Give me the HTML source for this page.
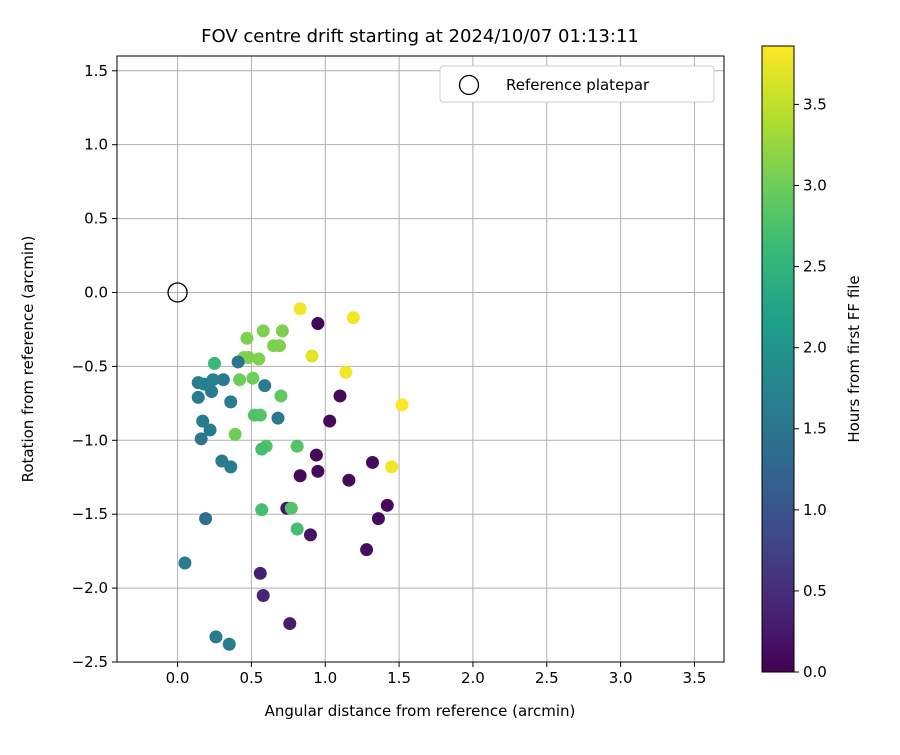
<!DOCTYPE html>
<html><head><meta charset="utf-8"><style>
body{margin:0;background:#fff;font-family:"Liberation Sans","DejaVu Sans",sans-serif}
svg text{font-family:"DejaVu Sans","Liberation Sans",sans-serif}
</style></head><body>
<svg id="c" width="900" height="750" xmlns="http://www.w3.org/2000/svg"></svg>
<script>
const xs=[0.95,1.03,1.10,0.94,0.95,0.83,1.16,1.32,1.42,1.36,1.28,0.90,0.74,0.56,0.58,0.76,
0.83,1.19,0.91,1.14,1.52,1.45,
0.47,0.58,0.71,0.69,0.65,0.55,0.45,0.48,0.42,0.51,0.25,0.70,0.39,0.52,0.56,0.60,0.57,0.81,0.57,0.77,0.81,
0.41,0.59,0.14,0.24,0.31,0.23,0.14,0.17,0.18,0.22,0.36,0.68,0.16,0.30,0.36,0.19,0.05,0.26,0.35];
const ys=[-0.21,-0.87,-0.70,-1.10,-1.21,-1.24,-1.27,-1.15,-1.44,-1.53,-1.74,-1.64,-1.46,-1.90,-2.05,-2.24,
-0.11,-0.17,-0.43,-0.54,-0.76,-1.18,
-0.31,-0.26,-0.26,-0.36,-0.36,-0.45,-0.44,-0.44,-0.59,-0.58,-0.48,-0.70,-0.96,-0.83,-0.83,-1.04,-1.06,-1.04,-1.47,-1.46,-1.60,
-0.47,-0.63,-0.61,-0.59,-0.59,-0.67,-0.71,-0.87,-0.62,-0.93,-0.74,-0.85,-0.99,-1.14,-1.18,-1.53,-1.83,-2.33,-2.38];
const hrs=[0.05,0.1,0.1,0.1,0.1,0.1,0.1,0.1,0.1,0.1,0.15,0.2,0.2,0.35,0.4,0.3,
3.8,3.8,3.7,3.8,3.85,3.8,
3.1,3.1,3.1,3.1,3.1,3.1,3.1,3.1,3.0,3.0,2.6,2.9,3.0,2.8,2.8,2.8,2.7,2.8,2.7,2.8,2.7,
1.5,1.6,1.6,1.7,1.6,1.6,1.6,1.6,1.7,1.6,1.6,1.6,1.5,1.6,1.6,1.4,1.6,1.6,1.6];
const xticks=[0,0.5,1,1.5,2,2.5,3,3.5], yticks=[1.5,1,0.5,0,-0.5,-1,-1.5,-2,-2.5], cticks=[0,0.5,1,1.5,2,2.5,3,3.5];
const NS="http://www.w3.org/2000/svg",s=document.getElementById('c');
function el(t,a,txt){const e=document.createElementNS(NS,t);for(const k in a)e.setAttribute(k,a[k]);if(txt!=null)e.textContent=txt;s.appendChild(e);return e;}
const L=117,R=724,T=56,B=662,x0=-0.41,x1=3.70,y0=-2.5,y1=1.6;
const X=v=>L+(v-x0)/(x1-x0)*(R-L), Y=v=>B-(v-y0)/(y1-y0)*(B-T);
const vir=[[68,1,84],[72,40,120],[62,74,137],[49,104,142],[38,130,142],[31,158,137],[53,183,121],[109,205,89],[180,222,44],[253,231,37]];
function col(h){let t=Math.max(0,Math.min(1,h/3.86))*9,i=Math.min(8,Math.floor(t)),f=t-i;const a=vir[i],b=vir[i+1];return `rgb(${a.map((v,k)=>Math.round(v+(b[k]-v)*f)).join(',')})`;}
let e;
e=el('rect',{x:L,y:T,width:R-L,height:B-T,fill:'#fff'});
xticks.forEach(v=>{const x=X(v);el('line',{x1:x,x2:x,y1:T,y2:B,stroke:'#b0b0b0','stroke-width':1});el('line',{x1:x,x2:x,y1:B,y2:B+5,stroke:'#000'});
e=el('text',{x:x,y:B+21,'font-size':15,'text-anchor':'middle'},v.toFixed(1));});
yticks.forEach(v=>{const y=Y(v);el('line',{x1:L,x2:R,y1:y,y2:y,stroke:'#b0b0b0','stroke-width':1});el('line',{x1:L-5,x2:L,y1:y,y2:y,stroke:'#000'});
e=el('text',{x:L-9,y:y+5,'font-size':15,'text-anchor':'end'},(v<0?'\u2212':'')+Math.abs(v).toFixed(1));});
xs.forEach((v,i)=>{e=el('circle',{cx:X(v),cy:Y(ys[i]),r:6.5,fill:col(hrs[i])});});
e=el('circle',{cx:X(0),cy:Y(0),r:9.5,fill:'none',stroke:'#000','stroke-width':1.3});
el('rect',{x:L,y:T,width:R-L,height:B-T,fill:'none',stroke:'#000','stroke-width':1});
e=el('rect',{x:440,y:66,width:274,height:36,rx:3,fill:'#fff',stroke:'#ccc'});
el('circle',{cx:469,cy:85,r:9.5,fill:'none',stroke:'#000','stroke-width':1.3});
e=el('text',{x:506,y:90,'font-size':15},'Reference platepar');
e=el('text',{x:420,y:42,'font-size':18,'text-anchor':'middle'},'FOV centre drift starting at 2024/10/07 01:13:11');
e=el('text',{x:420,y:716,'font-size':15,'text-anchor':'middle'},'Angular distance from reference (arcmin)');
e=el('text',{x:0,y:0,'font-size':15,'text-anchor':'middle',transform:`translate(33,359) rotate(-90)`},'Rotation from reference (arcmin)');
const CL=762,CR=794,CT=46,CB=672,cmax=3.86;
const g=el('defs',{});const lg=document.createElementNS(NS,'linearGradient');lg.setAttribute('id','vg');lg.setAttribute('x1','0');lg.setAttribute('y1','1');lg.setAttribute('x2','0');lg.setAttribute('y2','0');g.appendChild(lg);
vir.forEach((c,i)=>{const st=document.createElementNS(NS,'stop');st.setAttribute('offset',i/9);st.setAttribute('stop-color',`rgb(${c.join(',')})`);lg.appendChild(st);});
e=el('rect',{x:CL,y:CT,width:CR-CL,height:CB-CT,fill:'url(#vg)',stroke:'#000'});
cticks.forEach(v=>{const y=CB-v/cmax*(CB-CT);el('line',{x1:CR,x2:CR+5,y1:y,y2:y,stroke:'#000'});
e=el('text',{x:CR+9,y:y+5,'font-size':15},v.toFixed(1));});
e=el('text',{x:0,y:0,'font-size':15,'text-anchor':'middle',transform:`translate(859,359) rotate(-90)`},'Hours from first FF file');
</script></body></html>
